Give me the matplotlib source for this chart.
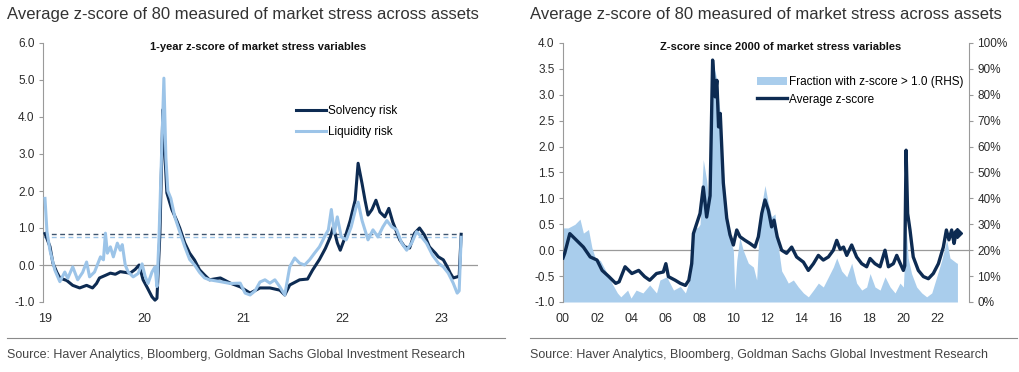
import matplotlib
matplotlib.use("Agg")
import matplotlib.pyplot as plt
from matplotlib.lines import Line2D
from matplotlib.ticker import FuncFormatter

# ---- left chart: 1-year z-score (x in years since 2000, e.g. 19.5 = mid 2019)
solvency_x = [19.00, 19.05, 19.08, 19.12, 19.15, 19.22, 19.28, 19.35, 19.42, 19.48,
              19.52, 19.55, 19.61, 19.66, 19.71, 19.76, 19.81, 19.86, 19.91, 19.95,
              19.99, 20.03, 20.08, 20.11, 20.13, 20.16, 20.19, 20.21, 20.23, 20.28,
              20.33, 20.36, 20.41, 20.46, 20.51, 20.56, 20.61, 20.66, 20.77, 20.87,
              20.97, 21.07, 21.17, 21.27, 21.37, 21.42, 21.47, 21.57, 21.65, 21.70,
              21.77, 21.83, 21.88, 21.91, 21.95, 21.98, 22.03, 22.08, 22.13, 22.16,
              22.20, 22.23, 22.26, 22.30, 22.34, 22.38, 22.43, 22.47, 22.51, 22.58,
              22.63, 22.68, 22.73, 22.78, 22.83, 22.88, 22.94, 22.97, 23.02, 23.06,
              23.09, 23.12, 23.16, 23.18, 23.20]
solvency_y = [0.85, 0.50, 0.05, -0.20, -0.35, -0.42, -0.55, -0.62, -0.55, -0.62,
              -0.50, -0.35, -0.28, -0.22, -0.25, -0.18, -0.20, -0.22, -0.12, 0.00,
              -0.40, -0.60, -0.86, -0.95, -0.90, 0.86, 4.20, 3.00, 1.95, 1.50,
              1.20, 1.00, 0.60, 0.32, 0.13, -0.13, -0.27, -0.40, -0.35, -0.49,
              -0.59, -0.76, -0.62, -0.62, -0.68, -0.81, -0.54, -0.40, -0.38, -0.14,
              0.15, 0.45, 0.76, 1.03, 0.60, 0.40, 0.76, 1.20, 1.75, 2.75,
              2.20, 1.75, 1.35, 1.50, 1.75, 1.43, 1.30, 1.53, 1.16, 0.68,
              0.49, 0.46, 0.86, 1.00, 0.81, 0.49, 0.32, 0.22, 0.14, -0.05,
              -0.22, -0.35, -0.32, -0.30, 0.83]

liquidity_x = [19.00, 19.02, 19.05, 19.10, 19.15, 19.20, 19.23, 19.28, 19.33, 19.38,
               19.42, 19.45, 19.50, 19.56, 19.59, 19.61, 19.63, 19.66, 19.69, 19.73,
               19.76, 19.78, 19.81, 19.84, 19.89, 19.94, 19.98, 20.01, 20.04, 20.08,
               20.11, 20.13, 20.15, 20.20, 20.22, 20.24, 20.27, 20.31, 20.36, 20.41,
               20.46, 20.51, 20.56, 20.61, 20.66, 20.77, 20.87, 20.97, 21.02, 21.07,
               21.12, 21.17, 21.22, 21.27, 21.32, 21.37, 21.42, 21.47, 21.52, 21.57,
               21.62, 21.67, 21.72, 21.77, 21.83, 21.86, 21.89, 21.92, 21.95, 21.99,
               22.04, 22.09, 22.14, 22.16, 22.20, 22.26, 22.31, 22.36, 22.41, 22.45,
               22.50, 22.55, 22.60, 22.65, 22.70, 22.75, 22.80, 22.85, 22.91, 22.97,
               23.02, 23.07, 23.12, 23.16, 23.18, 23.20]
liquidity_y = [1.80, 0.90, 0.40, -0.14, -0.45, -0.19, -0.36, -0.05, -0.40, -0.20,
               0.08, -0.32, -0.19, 0.22, 0.14, 0.86, 0.32, 0.49, 0.22, 0.59,
               0.40, 0.55, 0.00, -0.19, -0.32, -0.23, 0.03, -0.30, -0.50, -0.19,
               -0.05, -0.58, 0.68, 5.05, 2.90, 2.00, 1.80, 1.30, 0.90, 0.50,
               0.15, 0.00, -0.20, -0.35, -0.40, -0.45, -0.50, -0.49, -0.76, -0.81,
               -0.70, -0.46, -0.40, -0.49, -0.40, -0.59, -0.81, -0.05, 0.19, 0.05,
               0.00, 0.14, 0.32, 0.49, 0.81, 0.95, 1.50, 0.86, 1.30, 0.76,
               0.68, 1.03, 1.57, 1.70, 1.20, 0.68, 0.95, 0.76, 1.03, 1.20,
               1.03, 0.95, 0.59, 0.40, 0.59, 0.90, 0.76, 0.59, 0.27, 0.05,
               -0.05, -0.22, -0.49, -0.76, -0.70, 0.75]

solvency_now = 0.83
liquidity_now = 0.75
left_xticks = [19, 20, 21, 22, 23]

# ---- right chart: z-score since 2000
avg_x = [2000.0, 2000.1, 2000.4, 2000.8, 2001.2, 2001.6, 2002.0, 2002.3, 2002.7, 2003.1,
         2003.3, 2003.65, 2004.05, 2004.45, 2004.8, 2005.1, 2005.5, 2005.9, 2006.05, 2006.2,
         2006.6, 2006.9, 2007.2, 2007.4, 2007.57, 2007.67, 2007.86, 2008.06, 2008.25, 2008.45,
         2008.65, 2008.8, 2008.95, 2009.05, 2009.15, 2009.25, 2009.43, 2009.63, 2009.82, 2010.02,
         2010.22, 2010.41, 2010.71, 2011.0, 2011.29, 2011.49, 2011.69, 2011.88, 2012.08, 2012.27,
         2012.41, 2012.6, 2012.86, 2013.15, 2013.45, 2013.74, 2014.14, 2014.43, 2014.73, 2015.02,
         2015.31, 2015.61, 2015.9, 2016.1, 2016.3, 2016.5, 2016.69, 2016.98, 2017.27, 2017.57,
         2017.86, 2018.06, 2018.35, 2018.65, 2018.94, 2019.14, 2019.43, 2019.63, 2019.8, 2020.02,
         2020.1, 2020.18, 2020.27, 2020.41, 2020.6, 2020.9, 2021.2, 2021.49, 2021.78, 2022.08,
         2022.37, 2022.55, 2022.7, 2022.86, 2023.0, 2023.1, 2023.18]
avg_y = [-0.15, -0.06, 0.32, 0.19, 0.06, -0.13, -0.19, -0.39, -0.51, -0.64,
         -0.61, -0.32, -0.45, -0.39, -0.51, -0.58, -0.45, -0.42, -0.26, -0.51,
         -0.58, -0.64, -0.68, -0.58, -0.26, 0.32, 0.51, 0.71, 1.22, 0.64,
         1.05, 3.67, 2.96, 3.28, 2.38, 2.64, 1.30, 0.62, 0.30, 0.10,
         0.39, 0.26, 0.19, 0.13, 0.06, 0.26, 0.71, 0.97, 0.77, 0.45,
         0.58, 0.26, 0.00, -0.06, 0.06, -0.13, -0.23, -0.39, -0.26, -0.10,
         -0.19, -0.13, 0.00, 0.19, 0.02, 0.06, -0.10, 0.10, -0.13, -0.26,
         -0.32, -0.16, -0.26, -0.32, 0.00, -0.32, -0.26, -0.10, -0.23, -0.39,
         -0.30, 1.93, 0.71, 0.39, -0.13, -0.39, -0.51, -0.55, -0.45, -0.26,
         0.06, 0.39, 0.20, 0.39, 0.13, 0.30, 0.33]
avg_now = 0.33

frac_x = [2000.0, 2000.3, 2000.7, 2001.0, 2001.2, 2001.5, 2001.7, 2001.9, 2002.2, 2002.6,
          2002.9, 2003.2, 2003.4, 2003.8, 2004.0, 2004.3, 2004.7, 2005.1, 2005.5, 2005.7,
          2006.1, 2006.5, 2006.9, 2007.2, 2007.5, 2007.67, 2007.96, 2008.06, 2008.25, 2008.45,
          2008.55, 2008.75, 2008.8, 2009.04, 2009.24, 2009.43, 2009.63, 2009.82, 2010.02, 2010.1,
          2010.22, 2010.4, 2010.6, 2010.9, 2011.2, 2011.39, 2011.59, 2011.88, 2012.08, 2012.27,
          2012.47, 2012.67, 2012.86, 2013.06, 2013.25, 2013.55, 2013.84, 2014.14, 2014.43, 2014.73,
          2015.02, 2015.31, 2015.61, 2015.9, 2016.1, 2016.39, 2016.69, 2016.98, 2017.27, 2017.57,
          2017.86, 2018.06, 2018.35, 2018.65, 2018.94, 2019.24, 2019.53, 2019.82, 2020.02, 2020.18,
          2020.3, 2020.5, 2020.8, 2021.1, 2021.39, 2021.69, 2021.98, 2022.27, 2022.57, 2022.76,
          2022.96, 2023.16, 2023.2]
frac_y = [28.6, 28.6, 30.0, 32.0, 26.6, 28.0, 21.0, 17.0, 16.0, 11.0,
          7.0, 3.5, 2.0, 4.6, 1.5, 4.6, 3.5, 6.6, 3.5, 8.5,
          9.7, 4.6, 6.0, 3.5, 9.7, 28.0, 29.0, 30.0, 55.0, 47.0,
          40.0, 73.0, 94.0, 86.0, 73.0, 51.0, 33.0, 24.0, 20.0, 4.6,
          16.0, 25.0, 20.0, 15.0, 13.5, 8.5, 34.0, 45.0, 38.0, 33.0,
          34.0, 21.0, 12.0, 9.7, 7.3, 8.5, 5.8, 3.5, 2.0, 4.6,
          7.3, 5.8, 9.7, 13.5, 17.0, 12.0, 9.7, 15.0, 7.3, 4.6,
          5.8, 11.0, 5.8, 4.6, 9.7, 5.8, 3.5, 7.3, 5.8, 29.0,
          17.0, 11.0, 5.8, 3.5, 2.0, 3.5, 9.7, 16.0, 24.0, 17.0,
          16.0, 15.0, 15.0]
right_xticks = [2000, 2002, 2004, 2006, 2008, 2010, 2012, 2014, 2016, 2018, 2020, 2022]

title = "Average z-score of 80 measured of market stress across assets"
source = "Source: Haver Analytics, Bloomberg, Goldman Sachs Global Investment Research"

dark = "#0d2b52"
light = "#9cc4e8"
fill_col = "#a9cdec"
grey = "#9a9a9a"
txt = "#2b2b2b"

plt.rcParams['font.family'] = ['Liberation Sans', 'DejaVu Sans']

fig = plt.figure(figsize=(10.2, 3.72), dpi=100)


def style_axis(ax):
    for s in ['top', 'bottom', 'right']:
        ax.spines[s].set_visible(False)
    ax.spines['left'].set_color(grey)
    ax.spines['left'].set_linewidth(0.8)
    ax.tick_params(axis='y', colors=grey, labelcolor=txt, labelsize=8.5, length=3, width=0.8, pad=3)
    ax.tick_params(axis='x', length=0, labelcolor=txt, labelsize=9, pad=8)


# left chart
ax1 = fig.add_axes([43 / 1020, 70 / 372, 435 / 1020, 259 / 372])
style_axis(ax1)
ax1.axhline(0, color=grey, lw=0.9, zorder=1)
ax1.plot([18.98, 23.20], [solvency_now, solvency_now], color="#3f556f", lw=1.0,
         ls=(0, (3.5, 2.5)), zorder=2)
ax1.plot([18.98, 23.20], [liquidity_now, liquidity_now], color=light, lw=1.0,
         ls=(0, (3.5, 2.5)), zorder=2)
ax1.plot(solvency_x, solvency_y, color=dark, lw=2.2, label="Solvency risk", zorder=3)
ax1.plot(liquidity_x, liquidity_y, color=light, lw=2.2, label="Liquidity risk", zorder=4)
ax1.set_xlim(18.98, 23.37)
ax1.set_ylim(-1, 6)
ax1.set_yticks(range(-1, 7))
ax1.yaxis.set_major_formatter(FuncFormatter(lambda v, p: f"{v:.1f}"))
ax1.set_xticks(left_xticks)
ax1.set_xticklabels([str(v) for v in left_xticks])
ax1.text(0.495, 1.005, "1-year z-score of market stress variables", transform=ax1.transAxes,
         ha='center', va='top', fontsize=8, fontweight='bold', color='#111111')
ax1.legend(loc='upper left', bbox_to_anchor=(0.57, 0.78), frameon=False, fontsize=8.5,
           handlelength=2.6, handletextpad=0.15, labelspacing=0.8, borderaxespad=0)

# right chart
ax2 = fig.add_axes([563 / 1020, 70 / 372, 406 / 1020, 259 / 372])
ax3 = ax2.twinx()
style_axis(ax2)
for s in ['top', 'bottom', 'left']:
    ax3.spines[s].set_visible(False)
ax3.spines['right'].set_color(grey)
ax3.spines['right'].set_linewidth(0.8)
ax3.tick_params(axis='y', colors=grey, labelcolor=txt, labelsize=8.5, length=3, width=0.8, pad=3)
ax2.set_zorder(ax3.get_zorder() + 1)
ax2.patch.set_visible(False)

ax3.axhline(20, color=grey, lw=0.9, zorder=0)
ax3.fill_between(frac_x, 0, frac_y, color=fill_col, lw=0, zorder=1,
                 label="Fraction with z-score > 1.0 (RHS)")
ax3.set_ylim(0, 100)
ax3.set_yticks(range(0, 101, 10))
ax3.yaxis.set_major_formatter(FuncFormatter(lambda v, p: f"{v:.0f}%"))

ax2.plot(avg_x, avg_y, color=dark, lw=2.4, label="Average z-score", zorder=3)
ax2.plot([avg_x[-1]], [avg_now], marker='D', color=dark, ms=5, zorder=4)
ax2.set_xlim(2000, 2023.88)
ax2.set_ylim(-1, 4)
ax2.set_yticks([-1, -0.5, 0, 0.5, 1, 1.5, 2, 2.5, 3, 3.5, 4])
ax2.yaxis.set_major_formatter(FuncFormatter(lambda v, p: f"{v:.1f}"))
ax2.set_xticks(right_xticks)
ax2.set_xticklabels([f"{v % 100:02d}" for v in right_xticks])
ax2.text(0.535, 1.005, "Z-score since 2000 of market stress variables", transform=ax2.transAxes,
         ha='center', va='top', fontsize=8, fontweight='bold', color='#111111')
h3, l3 = ax3.get_legend_handles_labels()
h2, l2 = ax2.get_legend_handles_labels()
ax2.legend(h3 + h2, l3 + l2, loc='upper left', bbox_to_anchor=(0.465, 0.89), frameon=False,
           fontsize=8.5, handlelength=2.6, handletextpad=0.15, labelspacing=0.45,
           borderaxespad=0)

# titles, rules and sources
for x0, x1 in [(7, 505), (530, 1017)]:
    fig.text(x0 / 1020, 1 - 14 / 372, title, ha='left', va='center', fontsize=12, color='#333333')
    fig.add_artist(Line2D([x0 / 1020, x1 / 1020], [1 - 338 / 372, 1 - 338 / 372],
                          color='#8a8a8a', lw=0.8))
    fig.text(x0 / 1020, 1 - 355 / 372, source, ha='left', va='center', fontsize=9,
             color='#444444', family=['Liberation Sans Narrow', 'Liberation Sans', 'DejaVu Sans'])

fig.savefig("out.png", dpi=100)
